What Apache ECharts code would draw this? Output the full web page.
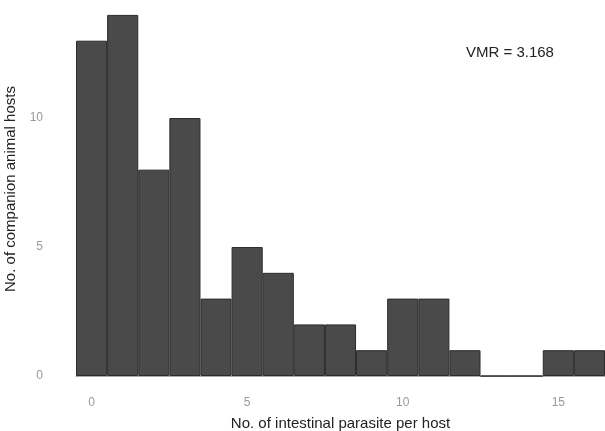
<!DOCTYPE html>
<html>
<head>
<meta charset="utf-8">
<script src="https://cdn.jsdelivr.net/npm/echarts@6/dist/echarts.min.js"></script>
<style>
  html, body { margin: 0; padding: 0; background: #fff; }
  #main { width: 605px; height: 431px; }
</style>
</head>
<body>
<div id="main"></div>
<script>
// parasites per host (bin centres) and counts of hosts
var parasiteCounts = ["0", "1", "2", "3", "4", "5", "6", "7", "8", "9", "10", "11", "12", "13", "14", "15", "16"];
var hostCounts = [13, 14, 8, 10, 3, 5, 4, 2, 2, 1, 3, 3, 1, 0, 0, 1, 1];
var yTicks = [0, 5, 10];
var vmrText = "VMR = 3.168";

var myChart = echarts.init(document.getElementById('main'));

var option = {
    animation: false,
    textStyle: { fontFamily: 'Liberation Sans, Arial, sans-serif' },
    grid: { left: 76, right: 0, top: 2, bottom: 55, containLabel: false, outerBoundsMode: 'none' },
    graphic: [{
        type: 'text',
        left: 466,
        top: 45,
        style: { text: vmrText, fontSize: 15, fill: '#222', fontFamily: 'Liberation Sans, Arial, sans-serif' }
    }],
    xAxis: {
        type: 'category',
        data: parasiteCounts,
        boundaryGap: true,
        name: 'No. of intestinal parasite per host',
        nameLocation: 'middle',
        nameGap: 40,
        nameTextStyle: { fontSize: 15, color: '#222' },
        axisLine: { lineStyle: { color: '#aaa', width: 1 } },
        axisTick: { show: false },
        axisLabel: {
            interval: function (i) { return i % 5 === 0; },
            margin: 21,
            fontSize: 12,
            color: '#999'
        }
    },
    yAxis: {
        type: 'value',
        min: 0,
        max: 14.5,
        interval: 5,
        name: 'No. of companion animal hosts',
        nameLocation: 'middle',
        nameGap: 56,
        nameTextStyle: { fontSize: 15, color: '#222' },
        splitLine: { show: false },
        axisLine: { show: false },
        axisTick: { show: false },
        axisLabel: {
            margin: 33,
            fontSize: 12,
            color: '#999',
            formatter: function (v) { return yTicks.indexOf(v) >= 0 ? String(v) : ''; }
        }
    },
    series: [{
        type: 'bar',
        data: hostCounts,
        barCategoryGap: '0%',
        itemStyle: {
            color: '#4a4a4a',
            borderColor: '#2b2b2b',
            borderWidth: 1
        }
    }]
};

myChart.setOption(option);
</script>
</body>
</html>
